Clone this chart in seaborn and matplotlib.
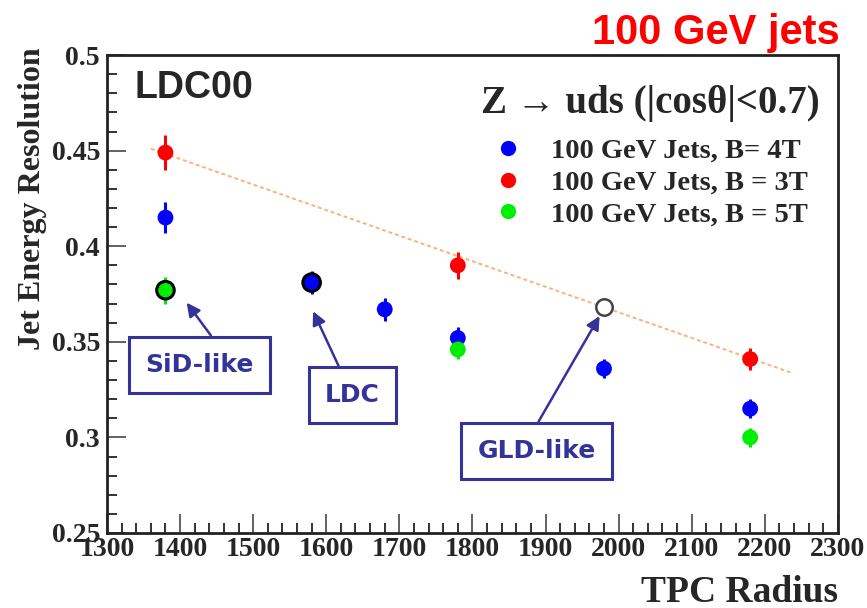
import numpy as np
import pandas as pd
import matplotlib
matplotlib.use("Agg")
import matplotlib.pyplot as plt
import seaborn as sns
from matplotlib.ticker import MultipleLocator, FormatStrFormatter
from matplotlib.lines import Line2D


# data
radius_4T = [1380, 1580, 1680, 1780, 1980, 2180]
res_4T = [0.415, 0.381, 0.367, 0.352, 0.336, 0.315]
err_4T = [0.008, 0.006, 0.006, 0.006, 0.005, 0.005]

radius_3T = [1380, 1780, 2180]
res_3T = [0.449, 0.390, 0.341]
err_3T = [0.009, 0.007, 0.006]

radius_5T = [1380, 1780, 2180]
res_5T = [0.377, 0.346, 0.300]
err_5T = [0.007, 0.005, 0.005]

# extrapolated GLD-like point and the fit line through the 3T points
gld_radius = [1980]
gld_res = [0.368]
fit_radius = [1360, 2235]
fit_res = [0.451, 0.334]

# highlighted points (black outline)
ring_radius = [1380, 1580]
ring_res = [0.377, 0.381]

labels = ["100 GeV Jets, B= 4T", "100 GeV Jets, B = 3T", "100 GeV Jets, B = 5T"]
colors = {"4T": "#0000ff", "3T": "#ff0000", "5T": "#00ee00"}

df = pd.concat([
    pd.DataFrame({"radius": radius_4T, "res": res_4T, "err": err_4T, "B": "4T"}),
    pd.DataFrame({"radius": radius_3T, "res": res_3T, "err": err_3T, "B": "3T"}),
    pd.DataFrame({"radius": radius_5T, "res": res_5T, "err": err_5T, "B": "5T"}),
], ignore_index=True)

sns.set_style("ticks")

fig = plt.figure(figsize=(8.67, 6.08), dpi=100)
ax = fig.add_axes([0.1234, 0.1234, 0.843, 0.786])

# fit line
ax.plot(fit_radius, fit_res, color="#ffb07a", lw=1.4, ls=(0, (2, 1.5)), zorder=1)

# error bars
for b, sub in df.groupby("B"):
    ax.errorbar(sub["radius"], sub["res"], yerr=sub["err"], fmt="none",
                ecolor=colors[b], elinewidth=2.2, capsize=0, zorder=2)

sns.scatterplot(data=df, x="radius", y="res", hue="B", palette=colors,
                s=130, edgecolor="none", legend=False, ax=ax, zorder=3)

# black rings around the SiD-like and LDC points
ax.scatter(ring_radius, ring_res, s=160, facecolors="none",
           edgecolors="black", linewidths=2.2, zorder=4)
ax.scatter(gld_radius, gld_res, s=140, facecolors="white",
           edgecolors="#444444", linewidths=1.8, zorder=4)

ax.set_xlim(1300, 2300)
ax.set_ylim(0.25, 0.5)
ax.xaxis.set_major_locator(MultipleLocator(100))
ax.xaxis.set_minor_locator(MultipleLocator(20))
ax.yaxis.set_major_locator(MultipleLocator(0.05))
ax.yaxis.set_minor_locator(MultipleLocator(0.01))
ax.yaxis.set_major_formatter(FormatStrFormatter("%g"))

for lab in ax.get_xticklabels() + ax.get_yticklabels():
    lab.set_fontfamily("Liberation Serif")
    lab.set_fontweight("bold")
    lab.set_fontsize(20)

ax.tick_params(which="major", direction="in", length=14, width=1.3,
               color="#555555", pad=3)
ax.tick_params(axis="y", which="major", pad=5)
ax.tick_params(which="minor", direction="in", length=7, width=1.3,
               color="#222222")
for s in ax.spines.values():
    s.set_linewidth(2)
    s.set_color("#222222")

ax.set_xlabel("TPC Radius", fontfamily="Liberation Serif", fontweight="bold",
              fontsize=27)
ax.xaxis.set_label_coords(1.0, -0.087)
ax.xaxis.label.set_horizontalalignment("right")
ax.set_ylabel("Jet Energy Resolution", fontfamily="Liberation Serif",
              fontweight="bold", fontsize=23)
ax.yaxis.set_label_coords(-0.082, 1.017)
ax.yaxis.label.set_verticalalignment("bottom")
ax.yaxis.label.set_horizontalalignment("right")

fig.text(0.968, 0.978, "100 GeV jets", color="#ff0000",
         fontfamily="Liberation Sans", fontweight="bold", fontsize=30,
         ha="right", va="top")
ax.text(0.038, 0.931, "LDC00", transform=ax.transAxes,
        fontfamily="Liberation Sans", fontweight="bold", fontsize=27,
        ha="left", va="center")

# legend header and entries
ax.text(0.744, 0.899, "Z \u2192 uds (|cos\u03b8|<0.7)", transform=ax.transAxes,
        fontfamily=["Liberation Serif", "DejaVu Serif"], fontweight="bold",
        fontsize=28, ha="center", va="center")
handles = [Line2D([], [], ls="none", marker="o", markersize=11,
                  markerfacecolor=colors[b], markeredgecolor="none")
           for b in ["4T", "3T", "5T"]]
ax.legend(handles, labels, loc="upper left", bbox_to_anchor=(0.529, 0.826),
          frameon=False, borderpad=0, borderaxespad=0,
          prop={"family": "Liberation Serif", "weight": "bold", "size": 20.5},
          handlelength=1.0, handletextpad=1.0, labelspacing=0.2)

# annotation boxes
box_col = "#333399"
box = dict(boxstyle="square,pad=0.65", fc="white", ec=box_col, lw=2.2)
ann_font = dict(fontfamily="DejaVu Sans", fontweight="bold", fontsize=18,
                color=box_col, ha="center", va="center", bbox=box)


def arrow(rx):
    return dict(arrowstyle="-|>", color=box_col, lw=1.8, mutation_scale=20,
                shrinkA=0, shrinkB=0, relpos=(rx, 1.0))


ax.annotate("SiD-like", xy=(1409, 0.3705), xytext=(1427, 0.338),
            arrowprops=arrow(0.72), **ann_font)
ax.annotate("LDC", xy=(1582, 0.366), xytext=(1636, 0.3222),
            arrowprops=arrow(0.39), **ann_font)
ax.annotate("GLD-like", xy=(1974, 0.3635), xytext=(1888, 0.2929),
            arrowprops=arrow(0.43), **ann_font)

fig.savefig("out.png", dpi=100)
